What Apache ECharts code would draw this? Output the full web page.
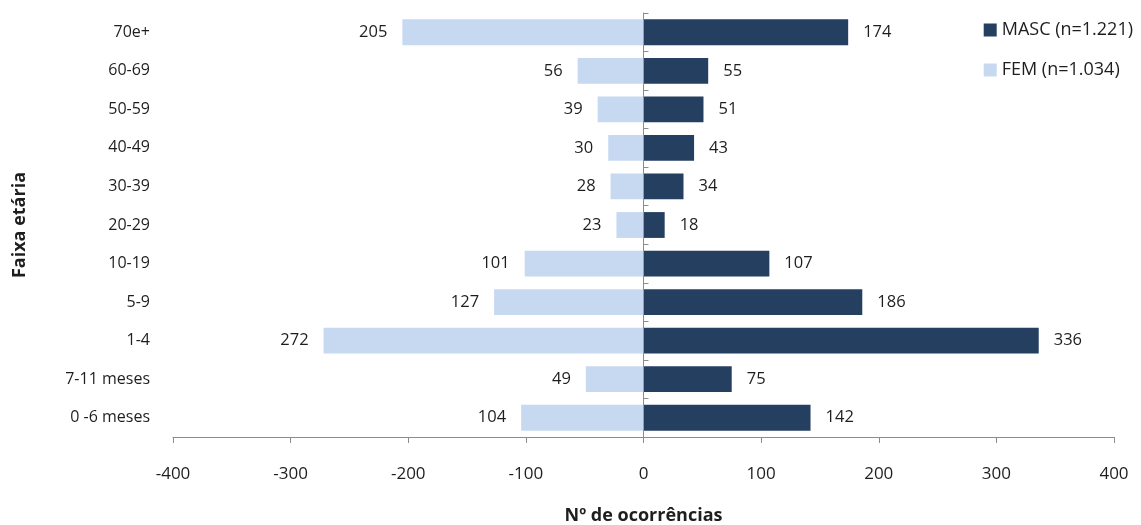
<!DOCTYPE html>
<html>
<head>
<meta charset="utf-8">
<script src="https://cdn.jsdelivr.net/npm/echarts@6/dist/echarts.min.js"></script>
<style>
  html, body { margin: 0; padding: 0; background: #fff; }
  #chart { width: 1141px; height: 525px; }
</style>
</head>
<body>
<div id="chart"></div>
<script>
// Age groups, bottom to top
const categories = ['0 -6 meses', '7-11 meses', '1-4', '5-9', '10-19', '20-29', '30-39', '40-49', '50-59', '60-69', '70e+'];
// Occurrences by sex
const masc = [142, 75, 336, 186, 107, 18, 34, 43, 51, 55, 174];
const fem = [104, 49, 272, 127, 101, 23, 28, 30, 39, 56, 205];
const xTicks = [-400, -300, -200, -100, 0, 100, 200, 300, 400];

const FONT = '"Open Sans", "Noto Sans", sans-serif';
const TEXT = '#1e1e1e';
const chart = echarts.init(document.getElementById('chart'));

chart.setOption({
  animation: false,
  textStyle: { fontFamily: FONT },
  grid: { left: 173, right: 27, top: 13, bottom: 88, containLabel: false, outerBoundsMode: 'none' },
  legend: {
    orient: 'vertical',
    right: 3,
    top: 16,
    itemWidth: 13,
    itemHeight: 13,
    itemGap: 22,
    icon: 'rect',
    textStyle: { fontFamily: FONT, fontSize: 18, color: TEXT },
    data: ['MASC (n=1.221)', 'FEM (n=1.034)']
  },
  xAxis: {
    type: 'value',
    min: xTicks[0],
    max: xTicks[xTicks.length - 1],
    interval: 100,
    name: 'Nº de ocorrências',
    nameLocation: 'middle',
    nameGap: 70,
    nameTextStyle: { fontFamily: FONT, fontSize: 18, fontWeight: 'bold', color: TEXT },
    axisLine: { show: true, lineStyle: { color: '#8c8c8c', width: 1 } },
    axisTick: { show: true, length: 6, lineStyle: { color: '#8c8c8c' } },
    axisLabel: { fontFamily: FONT, fontSize: 17, color: TEXT, margin: 29 },
    splitLine: { show: false }
  },
  yAxis: [
    {
      type: 'category',
      data: categories,
      position: 'left',
      name: 'Faixa etária',
      nameLocation: 'middle',
      nameGap: 144,
      nameRotate: 90,
      nameTextStyle: { fontFamily: FONT, fontSize: 18, fontWeight: 'bold', color: TEXT },
      axisLine: { show: false, onZero: false },
      axisTick: { show: false },
      axisLabel: { fontFamily: FONT, fontSize: 16, color: TEXT, margin: 23 }
    },
    {
      type: 'category',
      data: categories,
      axisLine: { show: true, onZero: true, lineStyle: { color: '#8c8c8c', width: 1 } },
      axisTick: { show: true, length: 5, lineStyle: { color: '#8c8c8c' } },
      axisLabel: { show: false }
    }
  ],
  series: [
    {
      name: 'MASC (n=1.221)',
      type: 'bar',
      stack: 'total',
      barCategoryGap: '33%',
      itemStyle: { color: '#243f60' },
      label: {
        show: true,
        position: 'right',
        distance: 15,
        fontFamily: FONT,
        fontSize: 16.5,
        color: TEXT
      },
      data: masc
    },
    {
      name: 'FEM (n=1.034)',
      type: 'bar',
      stack: 'total',
      barCategoryGap: '33%',
      itemStyle: { color: '#c6d9f1' },
      label: {
        show: true,
        position: 'left',
        distance: 15,
        fontFamily: FONT,
        fontSize: 16.5,
        color: TEXT,
        formatter: p => Math.abs(p.value)
      },
      data: fem.map(v => -v)
    }
  ]
});
</script>
</body>
</html>
